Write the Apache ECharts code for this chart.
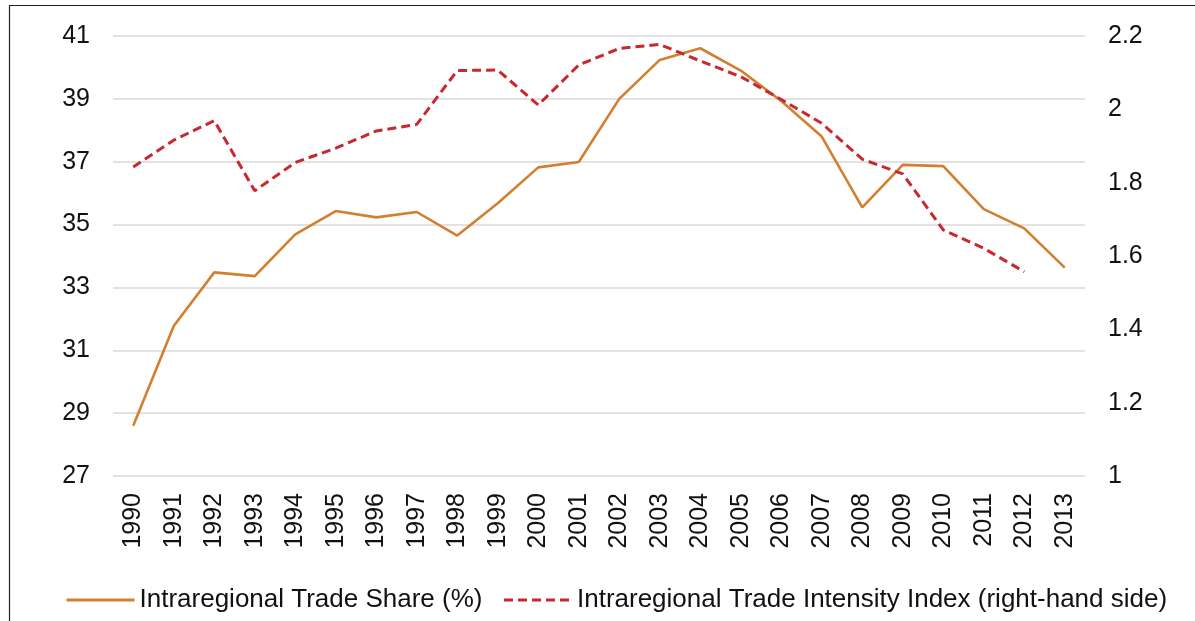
<!DOCTYPE html>
<html>
<head>
<meta charset="utf-8">
<script src="https://cdn.jsdelivr.net/npm/echarts@6/dist/echarts.min.js"></script>
<style>
html,body{margin:0;padding:0;background:#fff;}
#chart{width:1195px;height:621px;}
</style>
</head>
<body>
<div id="chart"></div>
<script>
const years = ['1990','1991','1992','1993','1994','1995','1996','1997','1998','1999','2000','2001','2002','2003','2004','2005','2006','2007','2008','2009','2010','2011','2012','2013'];
const tradeShare = [28.6,31.77,33.48,33.36,34.69,35.43,35.23,35.40,34.65,35.68,36.82,36.99,39.0,40.24,40.61,39.90,38.93,37.8,35.55,36.9,36.86,35.49,34.88,33.63];
const tradeIntensity = [1.843,1.916,1.969,1.778,1.855,1.894,1.941,1.959,2.106,2.107,2.012,2.121,2.166,2.177,2.132,2.089,2.027,1.962,1.864,1.824,1.671,1.621,1.557,null];
const seriesNames = ['Intraregional Trade Share (%)','Intraregional Trade Intensity Index (right-hand side)'];

const FONT = '"Liberation Sans", Arial, sans-serif';
const chart = echarts.init(document.getElementById('chart'), null, {renderer:'canvas'});
chart.setOption({
  animation:false,
  backgroundColor:'#ffffff',
  textStyle:{fontFamily:FONT},
  graphic:[{
    type:'rect', silent:true,
    shape:{x:9.5,y:5.5,width:1300,height:700},
    style:{fill:'none', stroke:'#222', lineWidth:1.2}
  }],
  grid:{left:113,right:110,top:36,bottom:145,containLabel:false},
  legend:{
    left:60, top:582,
    itemWidth:68, itemHeight:14, itemGap:20,
    itemStyle:{opacity:0},
    lineStyle:{width:3},
    textStyle:{fontSize:26,color:'#111',fontFamily:FONT},
    data:seriesNames
  },
  xAxis:{
    type:'category', data:years, boundaryGap:true,
    axisLine:{show:false}, axisTick:{show:false},
    axisLabel:{rotate:90, fontSize:25, color:'#111', margin:17, interval:0, fontFamily:FONT}
  },
  yAxis:[{
    type:'value', min:27, max:41, interval:2,
    axisLine:{show:false}, axisTick:{show:false},
    axisLabel:{fontSize:25, color:'#111', margin:23, fontFamily:FONT},
    splitLine:{lineStyle:{color:'#d9d9d9', width:1.6}}
  },{
    type:'value', min:1, max:2.2, interval:0.2, position:'right',
    axisLine:{show:false}, axisTick:{show:false},
    axisLabel:{fontSize:25, color:'#111', margin:23, fontFamily:FONT,
      formatter:function(v){return String(parseFloat(v.toFixed(1)));}},
    splitLine:{show:false}
  }],
  series:[{
    name:seriesNames[0], type:'line', yAxisIndex:0, data:tradeShare,
    symbol:'none', showSymbol:false,
    lineStyle:{color:'#d27f2f', width:2.6},
    itemStyle:{color:'#d27f2f'}
  },{
    name:seriesNames[1], type:'line', yAxisIndex:1, data:tradeIntensity,
    symbol:'none', showSymbol:false,
    lineStyle:{color:'#c8282f', width:3, type:[9,5]},
    itemStyle:{color:'#c8282f'}
  }]
});
</script>
</body>
</html>
